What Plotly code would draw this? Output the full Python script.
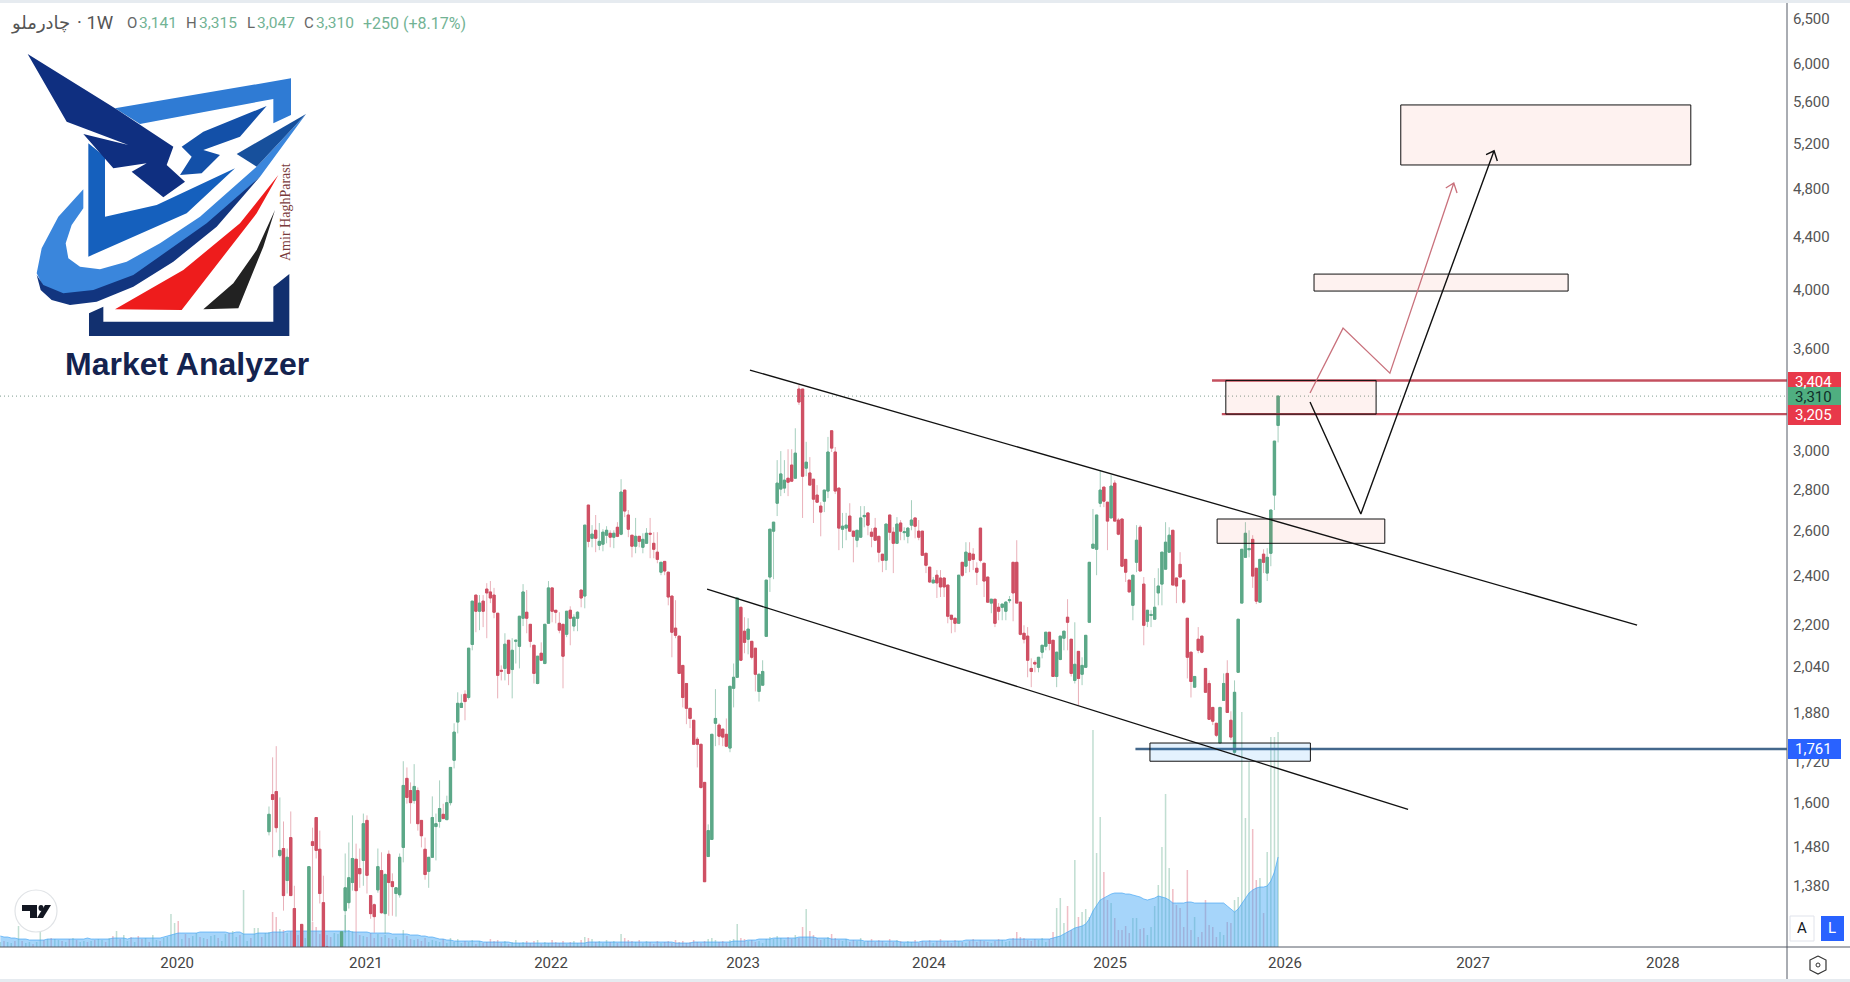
import math
import plotly.graph_objects as go

# ---------- price data: weekly candles ----------
opens = [1519,1623,1632,1456,1474,1392,1503,1324,1230,1287,1200,1225,1492,1558,1472,1338,1236,1205,1190,1200,
1232,1319,1338,1387,1446,1422,1443,1550,1355,1333,1369,1417,1312,1459,1389,1360,1357,1477,1671,1635,
1606,1635,1550,1472,1415,1451,1533,1547,1567,1552,1600,1726,1848,1897,1942,1931,2123,2319,2253,2294,
2344,2332,2319,2245,2027,2034,2139,2030,2135,2116,2225,2249,2201,2120,1980,2090,2052,2205,2349,2257,
2205,2201,2162,2257,2194,2225,2340,2315,2724,2567,2604,2535,2540,2581,2590,2572,2618,2586,2798,2676,
2581,2531,2576,2526,2544,2590,2544,2504,2416,2463,2416,2315,2186,2155,2045,1980,1894,1854,1792,1776,
1659,1453,1498,1844,1838,1825,1808,1764,1963,2002,2269,2174,2143,2135,2109,1952,1974,2154,2395,2600,
2733,2803,2808,2858,2926,2858,3352,3352,2910,2885,2853,2773,2719,2743,2793,3111,2995,2808,2609,2614,
2671,2600,2558,2572,2668,2686,2595,2614,2576,2495,2468,2676,2595,2544,2638,2593,2576,2628,2662,2600,
2600,2499,2438,2370,2403,2391,2391,2361,2237,2225,2205,2459,2442,2499,2495,2433,2614,2455,2395,2286,
2302,2269,2269,2253,2296,2459,2459,2290,2166,2155,2034,2056,2038,2094,2116,2170,2139,2005,2067,2147,
2229,2143,1991,2097,2013,2038,2209,2522,2517,2733,2813,2738,2662,2833,2652,2657,2472,2382,2277,2459,
2618,2365,2213,2236,2221,2328,2365,2429,2504,2604,2391,2450,2382,2225,2094,1967,2143,2155,2034,1980,
1897,1844,1780,1921,2016,1854,1751,2020,2286,2481,2515,2562,2433,2290,2495,2412,2499,2773,3141]
highs = [1589,1735,1770,1615,1547,1474,1575,1379,1232,1287,1225,1427,1530,1558,1522,1404,1238,1215,1210,1225,
1270,1461,1490,1564,1487,1474,1569,1564,1355,1336,1474,1464,1410,1469,1410,1374,1461,1723,1704,1659,
1714,1644,1550,1503,1451,1618,1569,1665,1597,1620,1704,1844,1949,1942,1956,2109,2294,2319,2319,2319,
2369,2378,2349,2245,2045,2166,2139,2147,2139,2233,2365,2340,2201,2120,2079,2131,2201,2378,2349,2257,
2249,2201,2253,2273,2241,2253,2340,2628,2724,2628,2676,2638,2609,2623,2604,2604,2642,2853,2798,2700,
2581,2662,2576,2590,2614,2662,2595,2595,2459,2463,2416,2315,2298,2155,2045,1980,1894,1854,1799,1776,
1659,1539,1808,1960,1844,1825,1860,1970,2052,2307,2269,2229,2225,2135,2109,2013,2064,2382,2609,2642,
2952,3000,2952,3010,3010,3125,3376,3352,3050,2968,2853,2823,2738,2798,3077,3111,3022,2808,2686,2686,
2733,2600,2604,2719,2719,2686,2614,2662,2576,2495,2633,2676,2618,2666,2652,2618,2618,2748,2662,2652,
2600,2499,2438,2395,2425,2425,2391,2361,2237,2225,2403,2459,2549,2549,2522,2459,2614,2455,2395,2302,
2302,2286,2282,2294,2315,2459,2558,2290,2197,2190,2071,2064,2075,2120,2170,2170,2139,2094,2155,2174,
2302,2143,2209,2097,2075,2158,2459,2705,2676,2900,2813,2738,2874,2848,2662,2657,2472,2382,2403,2628,
2628,2395,2257,2257,2391,2433,2504,2642,2618,2604,2391,2504,2382,2225,2094,2005,2190,2155,2034,1991,
1897,1844,1897,2016,2064,1884,1991,2221,2517,2642,2604,2581,2433,2472,2517,2522,2700,3054,3315]
lows = [1509,1451,1517,1451,1319,1360,1355,1225,1200,1220,1190,1215,1294,1448,1336,1228,1200,1180,1175,1190,
1225,1268,1324,1367,1268,1374,1379,1360,1300,1268,1362,1312,1266,1307,1307,1305,1350,1438,1597,1541,
1597,1522,1477,1394,1374,1451,1443,1530,1555,1552,1592,1701,1811,1897,1854,1924,2101,2170,2178,2190,
2147,2286,2225,1928,1991,1991,1974,1928,2052,2034,2194,2166,2112,1980,1977,2064,2049,2205,2209,2205,
2166,1963,2151,2120,2174,2174,2269,2265,2526,2526,2504,2513,2508,2544,2526,2522,2572,2581,2666,2572,
2481,2499,2526,2499,2544,2477,2477,2455,2403,2403,2277,2075,2147,2016,1897,1841,1828,1776,1704,1640,
1389,1453,1498,1770,1773,1770,1767,1751,1897,2002,2064,2090,2086,2067,1952,1917,1974,2154,2332,2386,
2671,2768,2783,2768,2843,2858,3258,2662,2868,2823,2638,2738,2576,2690,2758,2995,2778,2513,2522,2558,
2600,2459,2526,2572,2618,2581,2526,2558,2459,2416,2425,2558,2412,2544,2558,2558,2544,2604,2567,2558,
2490,2412,2370,2370,2307,2311,2311,2205,2166,2170,2205,2395,2412,2416,2425,2361,2459,2311,2290,2245,
2190,2217,2217,2217,2286,2213,2286,2158,2127,2002,1967,2020,2020,2071,2101,2101,2005,1967,2064,2101,
2101,2005,1980,1904,1974,2038,2209,2522,2403,2714,2714,2513,2662,2647,2581,2442,2374,2332,2217,2416,
2421,2120,2190,2190,2221,2277,2277,2429,2504,2361,2286,2395,2282,1998,1931,1967,2090,2090,1949,1857,
1838,1799,1780,1921,1880,1789,1745,2020,2286,2481,2481,2349,2282,2290,2412,2378,2442,2700,3047]
closes = [1567,1609,1530,1469,1355,1451,1355,1235,1210,1230,1220,1427,1482,1469,1360,1235,1210,1190,1200,1215,
1270,1374,1399,1448,1367,1409,1541,1405,1312,1305,1427,1314,1407,1387,1377,1374,1451,1650,1615,1600,
1647,1541,1508,1407,1451,1558,1541,1583,1555,1600,1704,1815,1911,1911,1917,2109,2294,2253,2286,2253,
2328,2307,2249,2009,2024,2124,2016,2101,2139,2233,2332,2225,2135,2016,2079,2064,2201,2349,2253,2249,
2178,2079,2253,2225,2229,2249,2307,2628,2553,2586,2567,2553,2595,2604,2572,2590,2576,2788,2695,2609,
2531,2576,2553,2562,2590,2586,2517,2472,2459,2421,2311,2170,2158,2016,1931,1894,1860,1776,1776,1644,
1389,1522,1808,1860,1802,1799,1770,1970,2002,2307,2064,2131,2182,2075,2013,2013,2023,2382,2609,2642,
2833,2880,2848,2838,2843,2989,3275,2868,2941,2823,2753,2738,2690,2798,2995,3016,2793,2614,2623,2628,
2600,2576,2604,2662,2674,2628,2576,2558,2504,2468,2633,2595,2544,2633,2600,2597,2614,2652,2623,2572,
2490,2446,2374,2382,2370,2353,2353,2233,2221,2205,2403,2403,2504,2468,2472,2416,2468,2378,2290,2302,
2205,2253,2282,2290,2300,2328,2286,2162,2143,2064,2023,2050,2075,2120,2170,2127,2005,2094,2155,2174,
2209,2016,2049,1998,2045,2158,2459,2540,2676,2798,2743,2647,2818,2647,2586,2442,2416,2332,2403,2558,
2421,2197,2257,2240,2269,2357,2504,2549,2581,2361,2357,2395,2290,2075,1987,2005,2101,2094,1949,1857,
1851,1805,1897,1980,1880,1799,1949,2221,2517,2590,2520,2399,2294,2472,2459,2481,2700,3054,3310]

# volume (millions), bars before the first on-screen candle, then one per candle
pre_volumes = [5,6,5,4,6,21,6,4,5,3, 5,16,7,8,9,8,7,6,5,8, 9,7,5,6,5,6,7,8,7,5, 9,11,16,8,12,6,10,5,11,8,
9,5,12,7,6,9,10,33,24,26, 8,13,9,11,14,10,9,8,11,12, 9,6,13,14,16,10,12,57,6,9, 19,19,10,14]
pre_up = [1,0,1,1,0,1,0,1,1,0, 1,1,0,1,0,1,1,0,1,0, 1,0,1,1,0,1,0,1,1,0, 1,0,1,0,1,1,0,1,0,0,
1,0,1,1,0,1,1,1,1,0, 1,0,0,1,1,0,1,0,1,1, 0,1,1,0,1,1,0,1,1,0, 1,1,0,1]
pre_volume_ma = [11,10,10,9,9,8,8,8,7,7, 7,7,7,8,8,8,8,8,8,8, 8,8,8,8,9,8,8,8,8,8, 8,9,9,9,9,8,9,9,9,9,
9,9,9,9,9,10,11,12,13,14, 14,14,14,14,14,15,15,15,15,15, 15,15,15,14,14,15,15,13,13,13, 13,14,14,14]
volumes = [15,35,30,18,17,14,16,13,12,14, 9,12,25,20,13,15,12,10,14,13, 15,32,17,16,14,12,11,10,14,9,
13,10,12,9,8,10,7,17,11,8, 7,8,6,9,5,7,6,5,8,4, 9,5,8,4,6,5,7,3,6,4, 5,8,6,7,4,6,3,5,7,4,
5,6,4,6,7,3,5,4,7,5, 4,6,3,5,6,4,7,10,9,8, 5,6,4,7,5,6,4,13,9,7, 6,5,7,4,6,5,3,6,4,5,
6,4,7,5,6,4,5,7,5,4, 6,8,9,7,5,6,4,7,8,23, 9,8,6,7,5,6,4,8,10,8, 11,9,7,10,8,12,9,20,38,16,
12,9,7,8,10,13,9,7,6,8, 5,7,6,9,5,6,8,5,7,6, 4,8,5,7,6,4,6,5,7,4, 6,5,7,4,6,8,5,6,4,7,
6,5,4,6,8,5,7,6,5,4, 6,8,7,5,6,9, 15,10,9,7,6,8,7,9,5,8, 15,39,49,24,41,17,87,30,35,38,
30,217,94,130,75,47,44,29,17,17, 21,14,29,29,18,19,12,20,41,62, 100,153,79,58,42,39,20,77,17,30,
10,15,47,22,20,10,15,12,25,24, 47,50,235,129,185,118,67,69,34,95, 210,210,215]
volume_ma = [14,15,15,15,15,16,16,16,16,16, 16,16,16,16,16,16,16,16,16,16, 16,16,16,15,15,15,15,15,14,14,
14,14,14,14,13,13,13,13,13,12, 12,12,11,11,10,10,9,8,8,7, 7,6,6,6,6,6,6,6,6,5,
5,5,5,5,5,5,5,4,4,4,4,4,4,4,4,4,4,4,4,4,
4,4,4,4,4,4,4,4,5,5, 5,5,5,5,5,5,5,5,5,5, 5,5,5,5,5,5,5,5,5,5, 5,5,4,4,4,4,4,5,5,5, 5,5,5,5,5,5,5,5,6,6,
6,6,7,7,7,8,8,8,8,9, 9,9,9,9,9,9,10,10,10,10, 10,9,9,9,9,8,8,8,8,8,
7,7,7,7,6,6,6,6,6,6, 6,6,6,6,5,5,5,5,5,5, 6,6,6,6,6,6,6,6,6,6,
6,6,7,7,7,7,7,7,7,7, 7,7,7,7,8,8,8,8,8,8, 8,8,8,8,8,8,
9,10,11,13,15,17,19,20,21,23,28,36,42,47,49,51,53,54,54,54,53,53,52,51,50,48,47,48,49,51,50,49,47,44,44,44,44,45,45,44,44,44,44,44,44,44,44,44,41,38,35,38,43,48,54,57,59,60,60,61,66,75,90]

# ---------- axes ----------
price_ticks = [6500,6000,5600,5200,4800,4400,4000,3600,3000,2800,2600,2400,2200,2040,1880,1720,1600,1480,1380]
year_labels = ["2020","2021","2022","2023","2024","2025","2026","2027","2028"]
year_positions = [-25.3,26.7,77.7,130.6,181.8,231.7,279.9,331.7,384]
bar_range = [-74.1,418.2]
price_range = [1236,6685]

# ---------- drawings (bar index, price) ----------
upper_trend_x, upper_trend_p = [132.5,376.9],[3468,2198]
lower_trend_x, lower_trend_p = [120.7,313.8],[2344,1581]
zones = [  # x0, x1, low, high, tint
    (311.8,391.7,5004,5571,"pink"),
    (287.9,357.9,3994,4117,"pink"),
    (263.6,305.0,3205,3404,"pink"),
    (261.2,307.4,2544,2657,"pink"),
    (242.7,286.9,1723,1780,"blue"),
]
black_path_x = [286.8,300.8,337.5,335.3,337.5,338.4]
black_path_p = [3275,2681,5132,5097,5132,5039]
red_path_x = [286.8,295.9,308.8,326.4,324.2,326.4,327.3]
red_path_p = [3328,3738,3449,4845,4802,4845,4759]
levels = [(259.8,3404,"#c4505f"),(262.5,3205,"#c4505f"),(238.7,1761,"#44688c")]
last_price = 3310

UP, DOWN = "#5ca888", "#cf5064"
UP_W, DOWN_W = "rgba(92,168,136,0.55)", "rgba(207,80,100,0.45)"
VOL_UP, VOL_DOWN = "rgba(92,168,136,0.38)", "rgba(215,85,105,0.38)"

bar_x = list(range(len(opens)))
pre_x = [i - len(pre_volumes) for i in range(len(pre_volumes))]
vol_colors = [VOL_UP if u else VOL_DOWN for u in pre_up] + [VOL_UP if c >= o else VOL_DOWN for o, c in zip(opens, closes)]

fig = go.Figure()
fig.add_trace(go.Bar(x=pre_x + bar_x[:len(volumes)], y=pre_volumes + volumes, width=0.42,
                     marker=dict(color=vol_colors, line=dict(width=0)), yaxis="y", hoverinfo="skip"))
ma = pre_volume_ma + volume_ma
fig.add_trace(go.Scatter(x=(pre_x + bar_x)[:len(ma)], y=ma, mode="lines", fill="tozeroy",
                         fillcolor="rgba(66,165,245,0.47)", line=dict(color="rgba(66,165,245,0.65)", width=1),
                         yaxis="y", hoverinfo="skip"))

fig.add_trace(go.Candlestick(x=bar_x, open=opens, high=highs, low=lows, close=closes, yaxis="y2", whiskerwidth=0,
                             increasing=dict(line=dict(color=UP_W, width=1), fillcolor=UP),
                             decreasing=dict(line=dict(color=DOWN_W, width=1), fillcolor=DOWN), hoverinfo="skip"))
fig.add_trace(go.Candlestick(x=bar_x, open=opens, close=closes,
                             high=[max(o, c) for o, c in zip(opens, closes)],
                             low=[min(o, c) for o, c in zip(opens, closes)], yaxis="y2", whiskerwidth=0,
                             increasing=dict(line=dict(color=UP, width=1), fillcolor=UP),
                             decreasing=dict(line=dict(color=DOWN, width=1), fillcolor=DOWN), hoverinfo="skip"))

def draw(x, y, color, width=1.5, dash="solid", fill=None):
    fig.add_trace(go.Scatter(x=x, y=y, mode="lines", yaxis="y2", hoverinfo="skip",
                             line=dict(color=color, width=width, dash=dash),
                             fill="toself" if fill else None, fillcolor=fill))

draw(bar_range, [last_price, last_price], "#7f9c8f", 1, "1px,3px")
for x0, p, col in levels:
    draw([x0, bar_range[1]], [p, p], col, 2.4)
for x0, x1, lo, hi, tint in zones:
    f = "rgba(244,80,60,0.075)" if tint == "pink" else "rgba(33,150,243,0.12)"
    draw([x0, x1, x1, x0, x0], [lo, lo, hi, hi, lo], "#111111", 1, fill=f)
draw(upper_trend_x, upper_trend_p, "#111111", 1.3)
draw(lower_trend_x, lower_trend_p, "#111111", 1.3)
draw(black_path_x, black_path_p, "#111111", 1.4)
draw(red_path_x, red_path_p, "#c9717c", 1.3)

# ---------- pixel helpers for page furniture ----------
PW, TOP, BOT = 1787, 3, 947
def fx(x): return x / PW
def fy(y): return (BOT - y) / (BOT - TOP)

shapes, ann = [], []
def poly(points, color, scale=1/3, dx=0, dy=0):
    d = "M " + " L ".join(f"{fx(dx + a * scale):.5f} {fy(dy + b * scale):.5f}" for a, b in points) + " Z"
    shapes.append(dict(type="path", xref="paper", yref="paper", path=d, fillcolor=color, line=dict(width=0), layer="above"))
def text(x, y, s, color="#555", size=15, family="Roboto", anchor="left", angle=0):
    ann.append(dict(xref="paper", yref="paper", x=fx(x), y=fy(y), text=s, showarrow=False, xanchor=anchor, yanchor="middle",
                    font=dict(color=color, size=size, family=family), textangle=angle, borderpad=0))

# header
text(10, 23, "چادرملو", "#555", 18, "DejaVu Sans")
text(76, 23, "· 1W", "#555", 18.5)
for x, s, c, z in [(126, "O", "#666", 15), (138, "3,141", "#72b394", 15.5), (185, "H", "#666", 15), (198, "3,315", "#72b394", 15.5),
                   (246, "L", "#666", 15), (256, "3,047", "#72b394", 15.5), (303, "C", "#666", 15), (315, "3,310", "#72b394", 15.5),
                   (362, "+250 (+8.17%)", "#72b394", 16)]:
    text(x, 23, s, c, z)

# logo
poly([(345,325),(873,235),(873,345),(820,370),(820,297),(420,372)], "#2f7bd4")
poly([(265,430),(315,470),(315,650),(470,615),(705,505),(560,640),(265,770)], "#1560bd")
poly([(250,568),(250,625),(215,675),(197,730),(205,775),(240,800),(300,808),(380,785),(480,730),(600,650),(770,500),(918,342),
      (780,530),(620,680),(400,830),(280,875),(190,885),(130,860),(110,820),(125,745),(175,650)], "#3a86dc")
poly([(110,825),(122,870),(155,900),(210,915),(290,905),(400,860),(520,785),(650,680),(780,530),(620,670),(400,825),(280,870),(190,880),(130,855)], "#12357f")
poly([(918,342),(770,500),(710,462)], "#17509c")
poly([(83,162),(345,325),(520,440),(500,495),(555,545),(490,592),(395,515),(440,490),(340,505),(250,402),(385,435),(200,365)], "#0f2f80")
poly([(800,318),(720,410),(610,450),(660,465),(605,520),(540,525),(575,470),(545,440),(610,395)], "#1350a8")
poly([(835,525),(770,640),(545,930),(345,928),(550,810),(720,670)], "#ee1c1c")
poly([(825,630),(790,740),(715,925),(610,928),(700,850),(770,750)], "#222222")
poly([(267,940),(310,920),(310,965),(820,965),(820,860),(868,822),(868,1008),(267,1008)], "#12306f")
text(285, 212, "Amir HaghParast", "#7a3b3b", 14, "Liberation Serif", "center", -90)
text(187, 364, "<b>Market Analyzer</b>", "#14234f", 32, "Liberation Sans", "center")

# TradingView badge
shapes.append(dict(type="circle", xref="paper", yref="paper", x0=fx(15), x1=fx(57), y0=fy(932), y1=fy(890),
                   fillcolor="white", line=dict(color="#e0e3e6", width=1.2), layer="above"))
poly([(22,905),(37,905),(37,918),(30,918),(30,911),(22,911)], "#131722", 1)
poly([(45,905),(51,905),(43,918),(37,918)], "#131722", 1)
shapes.append(dict(type="circle", xref="paper", yref="paper", x0=fx(38.5), x1=fx(43.5), y0=fy(911), y1=fy(905),
                   fillcolor="#131722", line=dict(width=0), layer="above"))

# price labels
for y, s, bg, fg in [(382, "3,404", "#e8394a", "white"), (397, "3,310", "#4fae80", "#10302a"),
                     (415, "3,205", "#e8394a", "white"), (749, "1,761", "#2962ff", "white")]:
    poly([(1788, y - 10), (1841, y - 10), (1841, y + 10), (1788, y + 10)], bg, 1)
    text(1814, y, s, fg, 15, "Roboto", "center")

# A / L buttons and settings icon
shapes.append(dict(type="rect", xref="paper", yref="paper", x0=fx(1790), x1=fx(1814), y0=fy(941), y1=fy(916),
                   fillcolor="white", line=dict(color="#e0e3eb", width=1), layer="above"))
shapes.append(dict(type="rect", xref="paper", yref="paper", x0=fx(1821), x1=fx(1844), y0=fy(941), y1=fy(916),
                   fillcolor="#2962ff", line=dict(width=0), layer="above"))
text(1802, 928, "A", "#131722", 15, "Roboto", "center")
text(1832, 928, "L", "white", 15, "Roboto", "center")
hexagon = [(1818,956),(1826,960),(1826,970),(1818,974),(1810,970),(1810,960),(1818,956)]
shapes.append(dict(type="path", xref="paper", yref="paper",
                   path="M " + " L ".join(f"{fx(a):.5f} {fy(b):.5f}" for a, b in hexagon),
                   line=dict(color="#333", width=1.2), fillcolor="rgba(0,0,0,0)", layer="above"))
shapes.append(dict(type="circle", xref="paper", yref="paper", x0=fx(1816), x1=fx(1820), y0=fy(967), y1=fy(963),
                   line=dict(color="#333", width=1), layer="above"))

# frame
shapes += [
    dict(type="line", xref="paper", yref="paper", x0=fx(1787), x1=fx(1787), y0=fy(980), y1=fy(0), line=dict(color="#555b66", width=1), layer="above"),
    dict(type="line", xref="paper", yref="paper", x0=0, x1=fx(1850), y0=fy(947), y1=fy(947), line=dict(color="#555b66", width=1), layer="above"),
    dict(type="rect", xref="paper", yref="paper", x0=0, x1=fx(1850), y0=fy(3), y1=fy(0), fillcolor="#e6ebf0", line=dict(width=0), layer="above"),
    dict(type="rect", xref="paper", yref="paper", x0=0, x1=fx(1850), y0=fy(982), y1=fy(979), fillcolor="#e6ebf0", line=dict(width=0), layer="above"),
]

fig.update_layout(
    width=1850, height=982, margin=dict(l=0, r=63, t=TOP, b=982 - BOT), paper_bgcolor="white", plot_bgcolor="white",
    showlegend=False, boxmode="overlay", boxgap=0.1, shapes=shapes, annotations=ann,
    xaxis=dict(range=bar_range, rangeslider=dict(visible=False), showgrid=False, zeroline=False, tickmode="array",
               tickvals=year_positions, ticktext=year_labels, ticks="", ticklabelstandoff=5,
               tickfont=dict(size=15, color="#444", family="Roboto")),
    yaxis=dict(range=[0, BOT - TOP], visible=False, fixedrange=True),
    yaxis2=dict(type="log", overlaying="y", side="right", range=[math.log10(price_range[0]), math.log10(price_range[1])],
                showgrid=False, zeroline=False, tickmode="array", tickvals=price_ticks, ticklabelstandoff=5,
                ticktext=[f"{v:,}" for v in price_ticks], ticks="", tickfont=dict(size=15, color="#555", family="Roboto")),
)
fig.write_html("out.html", config={"displayModeBar": False},
               post_script="document.body.style.margin='0';document.body.style.overflow='hidden';")
